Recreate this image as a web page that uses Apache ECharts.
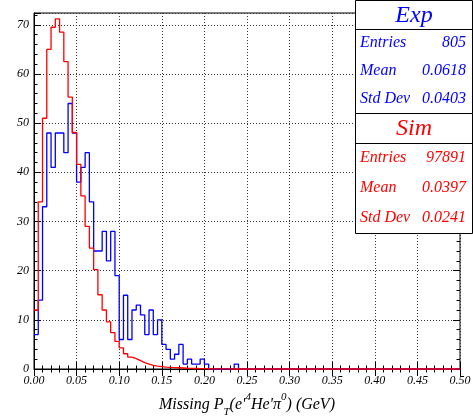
<!DOCTYPE html>
<html>
<head>
<meta charset="utf-8">
<script src="https://cdn.jsdelivr.net/npm/echarts@6/dist/echarts.min.js"></script>
<style>
html,body{margin:0;padding:0;background:#fff;}
#chart{width:473px;height:416px;}
</style>
</head>
<body>
<div id="chart"></div>
<script>
// ---- data ----
const xMin = 0.0;
const xMax = 0.5;
const binWidth = 0.005;
const yMax = 72.4;
const xTickLabels = ['0.00','0.05','0.10','0.15','0.20','0.25','0.30','0.35','0.40','0.45','0.50'];
const yTickLabels = ['0','10','20','30','40','50','60','70'];

// Exp histogram (blue), 100 bins of 0.005 GeV
const expCounts = [
  7, 14, 33, 48, 41, 48, 48, 44, 54, 48,
  38, 41, 44, 34, 24, 24, 28, 22, 28, 19,
  6, 15, 6, 12, 13, 11, 7, 12, 7, 10,
  5, 4, 2, 3, 5, 1, 2, 1, 1, 2,
  1, 0, 0, 0, 0, 0, 0, 1, 0, 0,
  0, 0, 0, 0, 0, 0, 0, 0, 0, 0,
  0, 0, 0, 0, 0, 0, 0, 0, 0, 0,
  0, 0, 0, 0, 0, 0, 0, 0, 0, 0,
  0, 0, 0, 0, 0, 0, 0, 0, 0, 0,
  0, 0, 0, 0, 0, 0, 0, 0, 0, 0
];
// Sim histogram (red, normalised), 100 bins
const simCounts = [
  12, 34, 51, 65, 69.5, 71.2, 68.5, 62.5, 55.3, 48.1,
  41.6, 35.2, 29, 24.6, 20.2, 15.1, 12, 9.6, 7.4, 5.6,
  4.3, 3.1, 2.4, 2.1, 1.7, 1.3, 1.0, 0.75, 0.6, 0.5,
  0.4, 0.35, 0.3, 0.25, 0.2, 0.15, 0.12, 0.1, 0.08, 0.06,
  0.05, 0.04, 0.03, 0.02, 0.02, 0.01, 0, 0, 0, 0,
  0, 0, 0, 0, 0, 0, 0, 0, 0, 0,
  0, 0, 0, 0, 0, 0, 0, 0, 0, 0,
  0, 0, 0, 0, 0, 0, 0, 0, 0, 0,
  0, 0, 0, 0, 0, 0, 0, 0, 0, 0,
  0, 0, 0, 0, 0, 0, 0, 0, 0, 0
];
const expTitle = 'Exp';
const expStatLabels = ['Entries', 'Mean', 'Std Dev'];
const expStatValues = ['805', '0.0618', '0.0403'];
const simTitle = 'Sim';
const simStatLabels = ['Entries', 'Mean', 'Std Dev'];
const simStatValues = ['97891', '0.0397', '0.0241'];

// ---- build step data from bins ----
function toStep(counts) {
  const pts = counts.map((v, i) => [xMin + i * binWidth, v]);
  pts.push([xMin + counts.length * binWidth, counts[counts.length - 1]]);
  return pts;
}

const FONT = '"Liberation Serif", "Times New Roman", serif';
const BLUE = '#0000ff';
const RED = '#ff0000';
const gridDot = { type: [1, 2], color: '#333', width: 1 };

const chart = echarts.init(document.getElementById('chart'), null, { renderer: 'canvas' });

// stat box graphics
function statBox(x0, y0, w, hTitle, rowH, title, labels, values, color) {
  const h = hTitle + rowH * labels.length;
  const els = [
    { type: 'rect', shape: { x: x0 + 0.5, y: y0 + 0.5, width: w, height: h },
      style: { fill: '#fff', stroke: '#000', lineWidth: 1 }, z: 100 },
    { type: 'line', shape: { x1: x0 + 0.5, y1: y0 + hTitle + 0.5, x2: x0 + w + 0.5, y2: y0 + hTitle + 0.5 },
      style: { stroke: '#000', lineWidth: 1 }, z: 101 },
    { type: 'text', x: x0 + w / 2 + 0.5, y: y0 + hTitle / 2 + 1,
      style: { text: title, fill: color, font: 'italic 24px ' + FONT, align: 'center', verticalAlign: 'middle' }, z: 102 }
  ];
  labels.forEach((lab, i) => {
    const cy = y0 + hTitle + rowH * (i + 0.5);
    els.push({ type: 'text', x: x0 + 5, y: cy,
      style: { text: lab, fill: color, font: 'italic 16px ' + FONT, align: 'left', verticalAlign: 'middle' }, z: 102 });
    els.push({ type: 'text', x: x0 + w - 6, y: cy,
      style: { text: values[i], fill: color, font: 'italic 16px ' + FONT, align: 'right', verticalAlign: 'middle' }, z: 102 });
  });
  return els;
}

const option = {
  animation: false,
  backgroundColor: '#fff',
  grid: { left: 34, right: 13, top: 13, bottom: 47, show: true, borderColor: '#000', borderWidth: 1,
          backgroundColor: 'transparent', containLabel: false, outerBoundsMode: 'none' },
  xAxis: [
    {
      type: 'value', position: 'bottom', min: xMin, max: xMax, interval: 0.05,
      axisLine: { show: true, lineStyle: { color: '#000', width: 1 } },
      axisTick: { show: true, inside: true, length: 7, lineStyle: { color: '#000' } },
      minorTick: { show: true, splitNumber: 5, length: 3.5, lineStyle: { color: '#000' } },
      splitLine: { show: true, lineStyle: gridDot },
      axisLabel: {
        margin: 6, color: '#000', fontFamily: FONT, fontStyle: 'italic', fontSize: 12,
        formatter: v => { const i = Math.round(v / 0.05); return Math.abs(v - i * 0.05) < 1e-9 ? (xTickLabels[i] || '') : ''; }
      },
      name: '{a|Missing P}{sub|T}{a|(e\'}{sup|4}{a|He\'π}{sup|0}{a|) (GeV)}',
      nameLocation: 'middle', nameGap: 19,
      nameTextStyle: {
        rich: {
          a: { fontFamily: FONT, fontStyle: 'italic', fontSize: 16, color: '#000', lineHeight: 26, verticalAlign: 'middle' },
          sup: { fontFamily: FONT, fontStyle: 'italic', fontSize: 11, color: '#000', lineHeight: 12, verticalAlign: 'top' },
          sub: { fontFamily: FONT, fontStyle: 'italic', fontSize: 11, color: '#000', lineHeight: 12, verticalAlign: 'bottom' }
        }
      }
    },
    {
      type: 'value', position: 'top', min: xMin, max: xMax, interval: 0.05,
      axisLine: { show: false },
      axisTick: { show: true, inside: true, length: 7, lineStyle: { color: '#000' } },
      minorTick: { show: true, splitNumber: 5, length: 3.5, lineStyle: { color: '#000' } },
      splitLine: { show: false },
      axisLabel: { show: false }
    }
  ],
  yAxis: [
    {
      type: 'value', position: 'left', min: 0, max: yMax, interval: 10,
      axisLine: { show: true, lineStyle: { color: '#000', width: 1 } },
      axisTick: { show: true, inside: true, length: 7, lineStyle: { color: '#000' } },
      splitLine: { show: true, lineStyle: gridDot },
      axisLabel: {
        margin: 5, color: '#000', fontFamily: FONT, fontStyle: 'italic', fontSize: 12,
        formatter: v => { const i = Math.round(v / 10); return Math.abs(v - i * 10) < 1e-9 ? (yTickLabels[i] || '') : ''; }
      }
    },
    {
      type: 'value', position: 'left', min: 0, max: yMax, interval: 2,
      axisLine: { show: false },
      axisTick: { show: true, inside: true, length: 3.5, lineStyle: { color: '#000' } },
      splitLine: { show: false }, axisLabel: { show: false }
    },
    {
      type: 'value', position: 'right', min: 0, max: yMax, interval: 10,
      axisLine: { show: false },
      axisTick: { show: true, inside: true, length: 7, lineStyle: { color: '#000' } },
      splitLine: { show: false }, axisLabel: { show: false }
    },
    {
      type: 'value', position: 'right', min: 0, max: yMax, interval: 2,
      axisLine: { show: false },
      axisTick: { show: true, inside: true, length: 3.5, lineStyle: { color: '#000' } },
      splitLine: { show: false }, axisLabel: { show: false }
    }
  ],
  series: [
    {
      name: 'Exp', type: 'line', step: 'end', symbol: 'none', xAxisIndex: 0, yAxisIndex: 0,
      data: toStep(expCounts), lineStyle: { color: BLUE, width: 1.3 }, z: 3, clip: false
    },
    {
      name: 'Sim', type: 'line', step: 'end', symbol: 'none', xAxisIndex: 0, yAxisIndex: 0,
      data: toStep(simCounts), lineStyle: { color: RED, width: 1.3 }, z: 4, clip: false
    }
  ],
  graphic: [
    ...statBox(355, 0, 117, 29, 28, expTitle, expStatLabels, expStatValues, BLUE),
    ...statBox(355, 113, 117, 30, 30, simTitle, simStatLabels, simStatValues, RED)
  ]
};
chart.setOption(option);
</script>
</body>
</html>
